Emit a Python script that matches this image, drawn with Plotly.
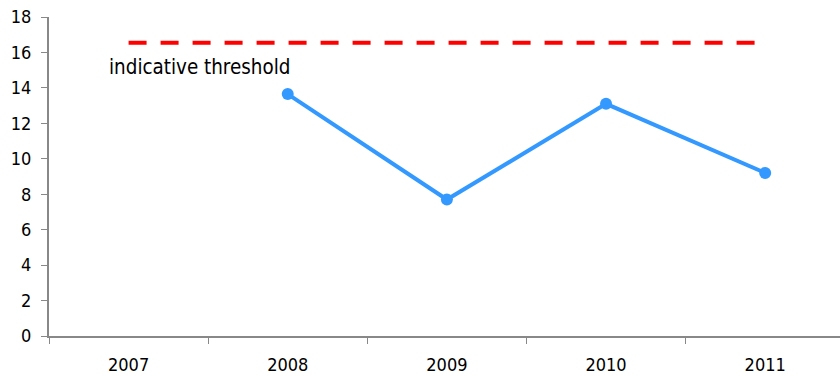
import plotly.graph_objects as go

years = ["2007", "2008", "2009", "2010", "2011"]
values = [None, 13.65, 7.7, 13.1, 9.2]
threshold = [16.55, 16.55, 16.55, 16.55, 16.55]
threshold_label = "indicative threshold"

FONT = "DejaVu Sans Condensed, DejaVu Sans"

fig = go.Figure()
fig.add_trace(go.Scatter(
    x=years, y=threshold, mode="lines",
    line=dict(color="#ff0000", width=4, dash="18px,14px"),
    showlegend=False, hoverinfo="skip"))
fig.add_trace(go.Scatter(
    x=years, y=values, mode="lines+markers",
    line=dict(color="#3399ff", width=4),
    marker=dict(color="#3399ff", size=12),
    showlegend=False))

fig.add_annotation(x=0, y=threshold[0], xref="x", yref="y",
                   text=threshold_label, showarrow=False,
                   xanchor="left", yanchor="top", xshift=-22, yshift=-10,
                   font=dict(family=FONT, size=20.4, color="#000000"))

fig.update_layout(
    width=840, height=376,
    margin=dict(l=49, r=0, t=17, b=40),
    paper_bgcolor="white", plot_bgcolor="white",
    font=dict(family=FONT, size=18, color="#000000"),
    xaxis=dict(type="category", range=[-0.5, 4.47], tickson="boundaries",
               ticks="outside", ticklen=6, tickcolor="#888888",
               showline=True, linecolor="#888888", linewidth=2,
               showgrid=False, zeroline=False, ticklabelstandoff=11,
               tickfont=dict(family=FONT, size=18)),
    yaxis=dict(range=[0, 18], dtick=2, ticks="outside", ticklen=6,
               tickcolor="#888888", showline=True, linecolor="#888888",
               linewidth=2, showgrid=False, zeroline=False, ticklabelstandoff=6,
               tickfont=dict(family=FONT, size=18)),
)

fig.write_html("out.html")
